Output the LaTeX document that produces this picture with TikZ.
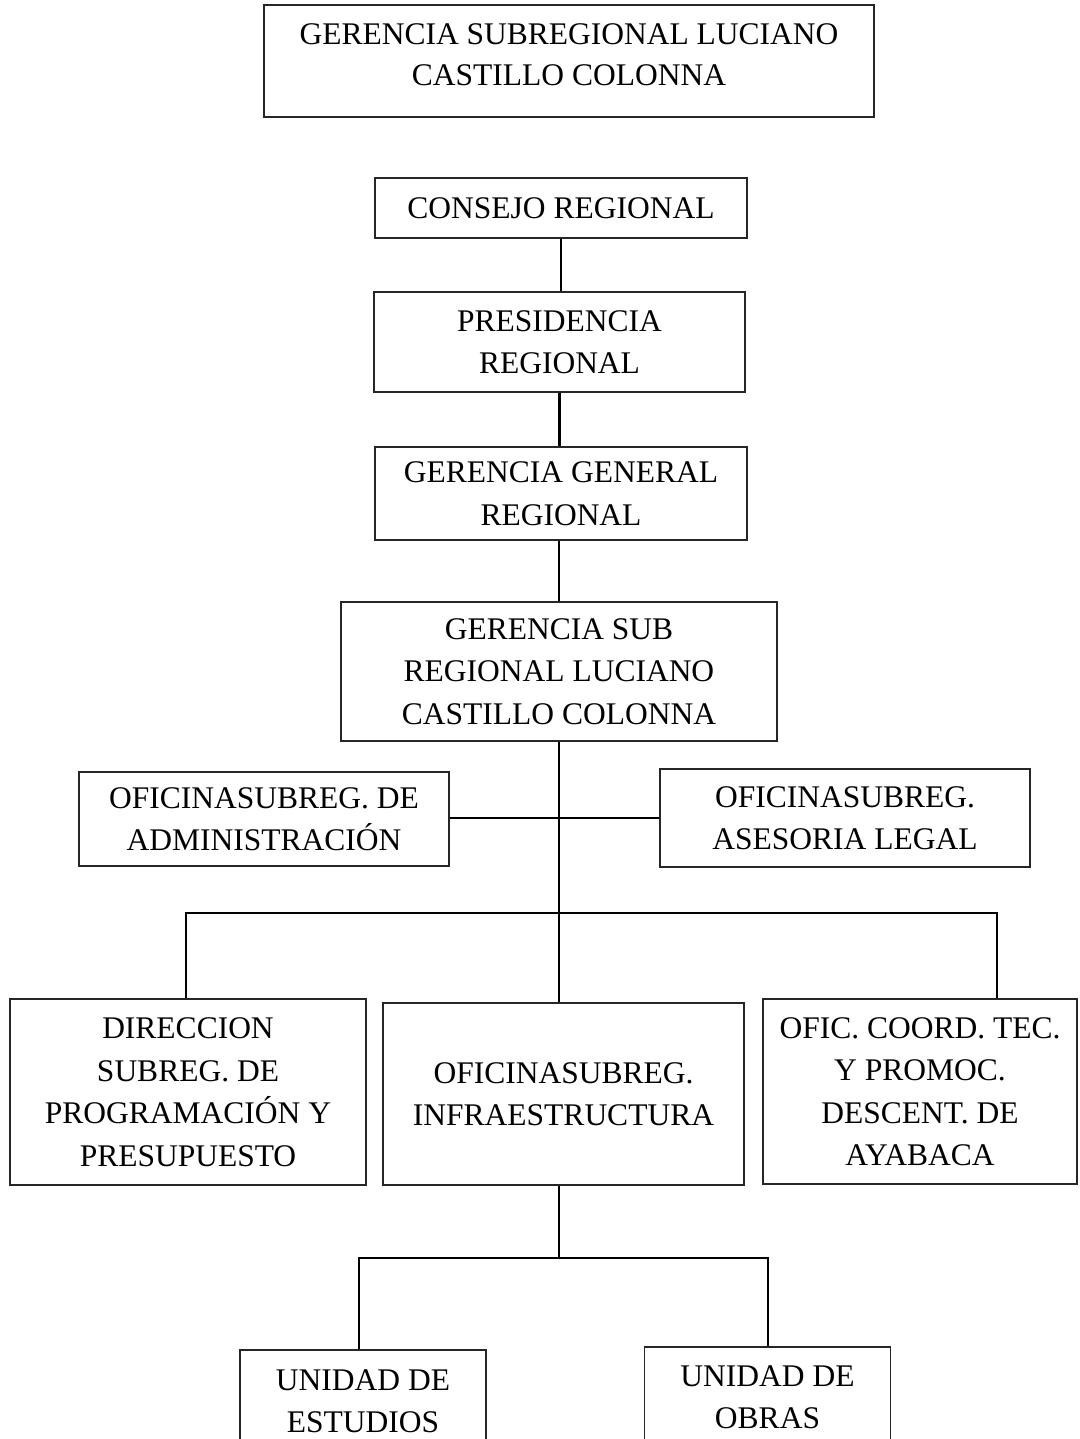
\documentclass[tikz,border=0pt]{standalone}
\usepackage{fontspec}
\setmainfont{Liberation Serif}
\begin{document}
\begin{tikzpicture}[x=1pt,y=-1pt,
  box/.style={draw=black!85,line width=1.3pt,align=center,inner sep=0pt,
    font=\fontsize{31.5}{42.5}\selectfont},
  boxtext/.style={align=center,inner sep=0pt,font=\fontsize{31.5}{40.5}\selectfont},
  conn/.style={line width=2.8pt}]
\useasboundingbox (0,0) rectangle (1079,1439);
\fill[white] (0,0) rectangle (1079,1439);
\clip (0,0) rectangle (1079,1439);
\node[box,minimum width=610pt,minimum height=112pt,
  label={[boxtext,name=titletext,yshift=6.5pt]center:{GERENCIA SUBREGIONAL LUCIANO\\CASTILLO COLONNA}}]
  (title) at (569,61) {};
\node[box,minimum width=372pt,minimum height=60pt] (consejo) at (561,208)
  {CONSEJO REGIONAL};
\node[box,minimum width=371pt,minimum height=100pt] (presid) at (559.5,342)
  {PRESIDENCIA\\REGIONAL};
\node[box,minimum width=372pt,minimum height=93pt] (gergen) at (561,493.5)
  {GERENCIA GENERAL\\REGIONAL};
\node[box,minimum width=436pt,minimum height=139pt] (gersub) at (559,671.5)
  {GERENCIA SUB\\REGIONAL LUCIANO\\CASTILLO COLONNA};
\node[box,minimum width=370pt,minimum height=94pt] (admin) at (264,819)
  {OFICINASUBREG. DE\\ADMINISTRACIÓN};
\node[box,minimum width=370pt,minimum height=98pt] (asesor) at (845,818)
  {OFICINASUBREG.\\ASESORIA LEGAL};
\node[box,minimum width=356pt,minimum height=186pt] (direc) at (188,1092)
  {DIRECCION\\SUBREG. DE\\PROGRAMACIÓN Y\\PRESUPUESTO};
\node[box,minimum width=361pt,minimum height=182pt] (infra) at (563.5,1094)
  {OFICINASUBREG.\\INFRAESTRUCTURA};
\node[box,minimum width=314pt,minimum height=185pt] (ofic) at (920,1091.5)
  {OFIC. COORD. TEC.\\Y PROMOC.\\DESCENT. DE\\AYABACA};
\node[box,minimum width=246pt,minimum height=102pt] (estud) at (363,1401)
  {UNIDAD DE\\ESTUDIOS};
\node[box,minimum width=246pt,minimum height=100pt] (obras) at (767.5,1397)
  {UNIDAD DE\\OBRAS};
% connectors
\draw[conn] (consejo.south) -- (consejo.south |- presid.north);
\draw[conn] (presid.south) -- (presid.south |- gergen.north);
\draw[conn] (gersub.north) -- (gersub.north |- gergen.south);
\draw[conn] (gersub.south) -- (gersub.south |- infra.north);
\draw[conn] (asesor.west -| admin.east) -- (asesor.west);
\coordinate (bl) at (186,913);
\coordinate (br) at (997,913);
\draw[conn] (direc.north -| bl) -- (bl) -- (br) -- (br |- ofic.north);
\coordinate (jn) at (559,1258);
\coordinate (jl) at (359,1258);
\coordinate (jr) at (768,1258);
\draw[conn] (infra.south -| jn) -- (jn);
\draw[conn] (estud.north -| jl) -- (jl) -- (jr) -- (jr |- obras.north);
\end{tikzpicture}
\end{document}
